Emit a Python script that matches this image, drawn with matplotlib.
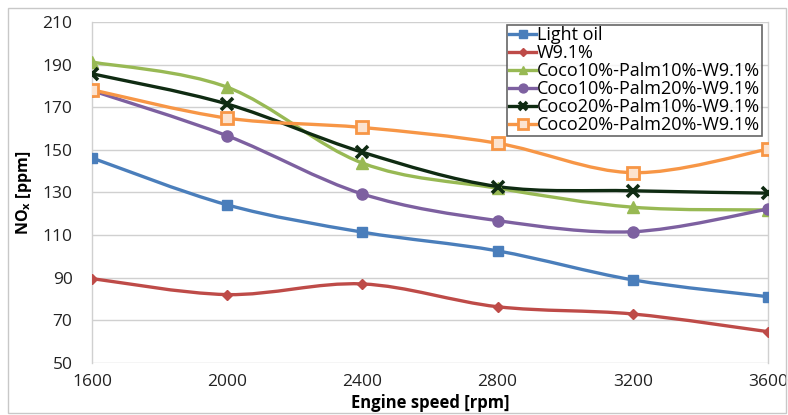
import matplotlib
matplotlib.use("Agg")
import matplotlib.pyplot as plt
from matplotlib.path import Path
from matplotlib.patches import PathPatch, Rectangle
from matplotlib.lines import Line2D

speeds = [1600, 2000, 2400, 2800, 3200, 3600]

light_oil = [146.2, 124.2, 111.4, 102.6, 89.0, 81.1]
w91 = [89.6, 82.1, 87.1, 76.4, 73.0, 64.7]
c10_p10 = [191.2, 179.4, 143.8, 132.0, 123.1, 121.8]
c10_p20 = [177.8, 156.6, 129.3, 116.8, 111.6, 122.2]
c20_p10 = [185.7, 171.5, 148.9, 132.8, 130.8, 129.7]
c20_p20 = [178.2, 164.9, 160.5, 153.1, 139.3, 150.3]

labels = [
    "Light oil",
    "W9.1%",
    "Coco10%-Palm10%-W9.1%",
    "Coco10%-Palm20%-W9.1%",
    "Coco20%-Palm10%-W9.1%",
    "Coco20%-Palm20%-W9.1%",
]
series = [light_oil, w91, c10_p10, c10_p20, c20_p10, c20_p20]

yticks = [50, 70, 90, 110, 130, 150, 170, 190, 210]


def smooth_path(xs, ys):
    # Excel style smoothed line: cubic Bezier through every point
    pts = list(zip(xs, ys))
    n = len(pts)
    verts = [pts[0]]
    codes = [Path.MOVETO]
    for i in range(n - 1):
        p0 = pts[i - 1] if i > 0 else pts[i]
        p1 = pts[i]
        p2 = pts[i + 1]
        p3 = pts[i + 2] if i + 2 < n else pts[i + 1]
        c1 = (p1[0] + (p2[0] - p0[0]) / 6, p1[1] + (p2[1] - p0[1]) / 6)
        c2 = (p2[0] - (p3[0] - p1[0]) / 6, p2[1] - (p3[1] - p1[1]) / 6)
        verts += [c1, c2, p2]
        codes += [Path.CURVE4] * 3
    return Path(verts, codes)


def main() -> None:
    plt.rcParams["font.family"] = ["Open Sans", "DejaVu Sans"]
    fig = plt.figure(figsize=(7.88, 4.15), dpi=100)
    ax = fig.add_axes([0.1168, 0.1253, 0.8578, 0.8217])

    styles = [
        dict(color="#4A7EBB", marker="s", ms=7, mfc="#4A7EBB", mec="#4A7EBB", mew=1),
        dict(color="#BE4B48", marker="D", ms=5, mfc="#BE4B48", mec="#BE4B48", mew=1),
        dict(color="#98B954", marker="^", ms=8, mfc="#98B954", mec="#98B954", mew=1),
        dict(color="#7D60A0", marker="o", ms=8, mfc="#7D60A0", mec="#7D60A0", mew=1),
        dict(color="#0F2B12", marker="x", ms=8, mfc="#0F2B12", mec="#0F2B12", mew=2.6),
        dict(color="#F79646", marker="s", ms=9, mfc="#FCE3CF", mec="#F79646", mew=2),
    ]

    handles = []
    for vals, st, lab in zip(series, styles, labels):
        ax.add_patch(PathPatch(smooth_path(speeds, vals), facecolor="none",
                               edgecolor=st["color"], lw=2.4, zorder=3))
        ax.plot(speeds, vals, ls="none", marker=st["marker"], ms=st["ms"],
                mfc=st["mfc"], mec=st["mec"], mew=st["mew"], zorder=4)
        handles.append(Line2D([], [], color=st["color"], lw=2.4,
                              marker=st["marker"], ms=st["ms"] * 0.8,
                              mfc=st["mfc"], mec=st["mec"], mew=st["mew"]))

    ax.set_xlim(1600, 3600)
    ax.set_ylim(50, 210)
    ax.set_xticks(speeds)
    ax.set_yticks(yticks)
    ax.tick_params(length=0, labelsize=12.5, colors="#222222", pad=14)
    ax.tick_params(axis="x", pad=8)
    ax.grid(axis="y", color="#D0D0D0", lw=1)
    for side in ["top", "bottom"]:
        ax.spines[side].set_visible(False)
    for side in ["left", "right"]:
        ax.spines[side].set_color("#D0D0D0")
        ax.spines[side].set_linewidth(1)

    ax.set_xlabel("Engine speed [rpm]", fontsize=12, fontweight="bold",
                  labelpad=3)
    ax.set_ylabel(r"NO$_\mathregular{x}$ [ppm]", fontsize=11.5, fontweight="bold",
                  labelpad=6)

    leg = ax.legend(handles, labels, loc="upper right",
                    bbox_to_anchor=(0.9912, 0.9922), fontsize=13,
                    frameon=True, fancybox=False, handlelength=1.5,
                    handletextpad=0.05, borderpad=0.1, labelspacing=0.0,
                    borderaxespad=0)
    leg.get_frame().set_edgecolor("#404040")
    leg.get_frame().set_linewidth(1.2)

    fig.patches.append(Rectangle((0.010, 0.005), 0.988, 0.976,
                                 transform=fig.transFigure, fill=False,
                                 edgecolor="#C8C8C8", lw=1))

    fig.savefig("out.png", dpi=100)


if __name__ == "__main__":
    main()
